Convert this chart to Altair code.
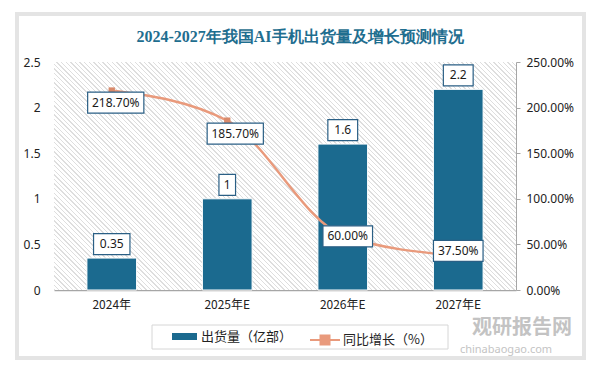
import altair as alt
import pandas as pd

# ---------------- data ----------------
years = ["2024年", "2025年E", "2026年E", "2027年E"]
shipments = [0.35, 1, 1.6, 2.2]
growth = [218.7, 185.7, 60.0, 37.5]
bar_labels = ["0.35", "1", "1.6", "2.2"]
growth_labels = ["218.70%", "185.70%", "60.00%", "37.50%"]
left_ticks = [0, 0.5, 1, 1.5, 2, 2.5]
right_ticks = [0, 50, 100, 150, 200, 250]
series = ["出货量（亿部）", "同比增长（%）"]
title_text = "2024-2027年我国AI手机出货量及增长预测情况"
watermark = ["观研报告网", "chinabaogao.com"]

# ---------------- style ----------------
W, H = 462, 228
BLUE = "#1b6a8f"
ORANGE = "#e99a7c"
MARK_ORANGE = "#d98a6b"
BOX_STROKE = "#2a5f85"
NUM_FONT = "Noto Sans"
CJK_FONT = "Noto Sans CJK SC"
growth_dx = [4, 8, 5, 0]      # label box offsets (px)
growth_dy = [12, 13, 1, -5]


def box_path(text, unit=10.0):
    hw = (len(text) * 6.6 + 10) / 2 / unit
    hh = 1.05
    return f"M{-hw:.3f},{-hh}H{hw:.3f}V{hh}H{-hw:.3f}Z"


df = pd.DataFrame({
    "year": years,
    "ship": shipments,
    "growth": growth,
    "blabel": bar_labels,
    "glabel": growth_labels,
    "bpath": [box_path(t) for t in bar_labels],
    "gpath": [box_path(t) for t in growth_labels],
    "s_bar": [series[0]] * len(years),
    "s_line": [series[1]] * len(years),
})

xscale = alt.Scale(domain=years, paddingInner=0.57, paddingOuter=0.285)
x_axis = alt.Axis(title=None, labelAngle=0, domainColor="#a6a6a6", domainWidth=1.5,
                  ticks=False, labelPadding=9, labelFont=CJK_FONT, labelFontSize=12,
                  labelColor="#222222", grid=False)
yl_scale = alt.Scale(domain=[0, 2.5])
yr_scale = alt.Scale(domain=[0, 250])
yl_axis = alt.Axis(title=None, values=left_ticks, format=".1~f", domain=False, ticks=False,
                   grid=False, labelPadding=14, labelFont=NUM_FONT, labelFontSize=12,
                   labelColor="#222222")
yr_axis = alt.Axis(orient="right", title=None, values=right_ticks,
                   labelExpr="format(datum.value, '.2f') + '%'", domain=True,
                   domainColor="#a6a6a6", ticks=True, tickSize=4, tickColor="#a6a6a6",
                   grid=False, labelPadding=6, labelFont=NUM_FONT, labelFontSize=12,
                   labelColor="#222222")

X = alt.X("year:N", scale=xscale, axis=x_axis, sort=years)
YL = alt.Y("ship:Q", scale=yl_scale, axis=yl_axis)
YR = alt.Y("growth:Q", scale=yr_scale, axis=yr_axis)

# hatch background via striped gradient
n = 150
stops = []
for i in range(n):
    a = i / n
    b = (i + 0.28) / n
    stops += [
        {"offset": a, "color": "#dedede"},
        {"offset": b, "color": "#dedede"},
        {"offset": b, "color": "#ffffff"},
        {"offset": (i + 1) / n, "color": "#ffffff"},
    ]
hatch = alt.Gradient(gradient="linear", stops=stops, x1=0, y1=1, x2=1.201, y2=0.4073)

one = alt.InlineData(values=[{"k": 1}])

card = alt.Chart(one).mark_rect(fill=None, stroke="#e4e4e4", strokeWidth=4).encode(
    x=alt.value(-37), x2=alt.value(530), y=alt.value(-48), y2=alt.value(296))

bg = alt.Chart(one).mark_rect(fill=hatch).encode(
    x=alt.value(0), x2=alt.value(W), y=alt.value(0), y2=alt.value(H))

title = alt.Chart(alt.InlineData(values=[{"t": title_text}])).mark_text(
    font="Liberation Serif", fontSize=16, fontWeight="bold", color="#1f6e8f",
    align="center", baseline="middle").encode(
    text="t:N", x=alt.value(246), y=alt.value(-25))

wm = alt.Chart(alt.InlineData(values=[{"t": watermark[0]}])).mark_text(
    font=CJK_FONT, fontSize=20, fontWeight="bold", color="#b0b0b0", opacity=0.75,
    align="center", baseline="middle").encode(text="t:N", x=alt.value(468), y=alt.value(266))
wm2 = alt.Chart(alt.InlineData(values=[{"t": watermark[1]}])).mark_text(
    font=NUM_FONT, fontSize=11, color="#b0b0b0", opacity=0.75,
    align="center", baseline="middle").encode(text="t:N", x=alt.value(452), y=alt.value(288))

legend_box = alt.Chart(one).mark_rect(fill=None, stroke="#d6d6d6", strokeWidth=1).encode(
    x=alt.value(98), x2=alt.value(394), y=alt.value(263), y2=alt.value(287))

bars = alt.Chart(df).mark_bar(stroke="white", strokeWidth=1).encode(
    x=X, y=YL,
    color=alt.Color("s_bar:N", scale=alt.Scale(domain=[series[0]], range=[BLUE]),
                    legend=alt.Legend(title=None, orient="none", legendX=118, legendY=262,
                                      symbolType="M-1,-0.28H1V0.28H-1Z", symbolSize=625,
                                      symbolStrokeWidth=0, labelFont=CJK_FONT,
                                      labelFontSize=13, labelColor="#222222",
                                      labelOffset=4, padding=0)),
)

bar_boxes = alt.Chart(df).mark_point(filled=True, fill="white", stroke=BOX_STROKE,
                                     strokeWidth=1.2, opacity=1, size=400, yOffset=-14).encode(
    x=X, y=YL,
    shape=alt.Shape("bpath:N", scale=None, legend=None),
)
bar_text = alt.Chart(df).mark_text(font=NUM_FONT, fontSize=12, color="#1a1a1a",
                                   baseline="middle", align="center", dy=-14).encode(
    x=X, y=YL, text="blabel:N",
)

bar_group = alt.layer(bars, bar_boxes, bar_text)

line = alt.Chart(df).mark_line(interpolate="monotone", strokeWidth=2.5).encode(
    x=X, y=YR,
    stroke=alt.Stroke("s_line:N", scale=alt.Scale(domain=[series[1]], range=[ORANGE]),
                      legend=alt.Legend(title=None, orient="none", legendX=255, legendY=262,
                                        symbolType="M-1,0H1M-0.3,-0.3H0.3V0.3H-0.3Z",
                                        symbolSize=900, symbolStrokeWidth=2,
                                        symbolFillColor=ORANGE, labelFont=CJK_FONT,
                                        labelFontSize=13, labelColor="#222222",
                                        labelOffset=2, padding=0)),
)
pts = alt.Chart(df).mark_point(shape="square", filled=True, color=MARK_ORANGE,
                               size=40, opacity=1).encode(x=X, y=YR)

label_layers = []
for i, yr in enumerate(years):
    sub = alt.Chart(df).transform_filter(alt.datum.year == yr)
    label_layers.append(sub.mark_point(
        filled=True, fill="white", stroke=BOX_STROKE, strokeWidth=1.2, opacity=1,
        size=400, xOffset=growth_dx[i], yOffset=growth_dy[i]).encode(
        x=X, y=YR, shape=alt.Shape("gpath:N", scale=None, legend=None)))
    label_layers.append(sub.mark_text(
        font=NUM_FONT, fontSize=12, color="#1a1a1a", baseline="middle", align="center",
        dx=growth_dx[i], dy=growth_dy[i]).encode(x=X, y=YR, text="glabel:N"))

line_group = alt.layer(line, pts, *label_layers)

chart = alt.layer(card, bg, title, wm, wm2, legend_box, bar_group, line_group).resolve_scale(
    y="independent", color="independent", shape="independent"
).properties(
    width=W, height=H,
    autosize=alt.AutoSizeParams(type="none"),
    padding={"left": 46, "top": 54, "right": 73, "bottom": 71},
    background="white",
).configure_view(stroke=None)

chart.save("out.html", embed_options={"renderer": "svg", "actions": False})
